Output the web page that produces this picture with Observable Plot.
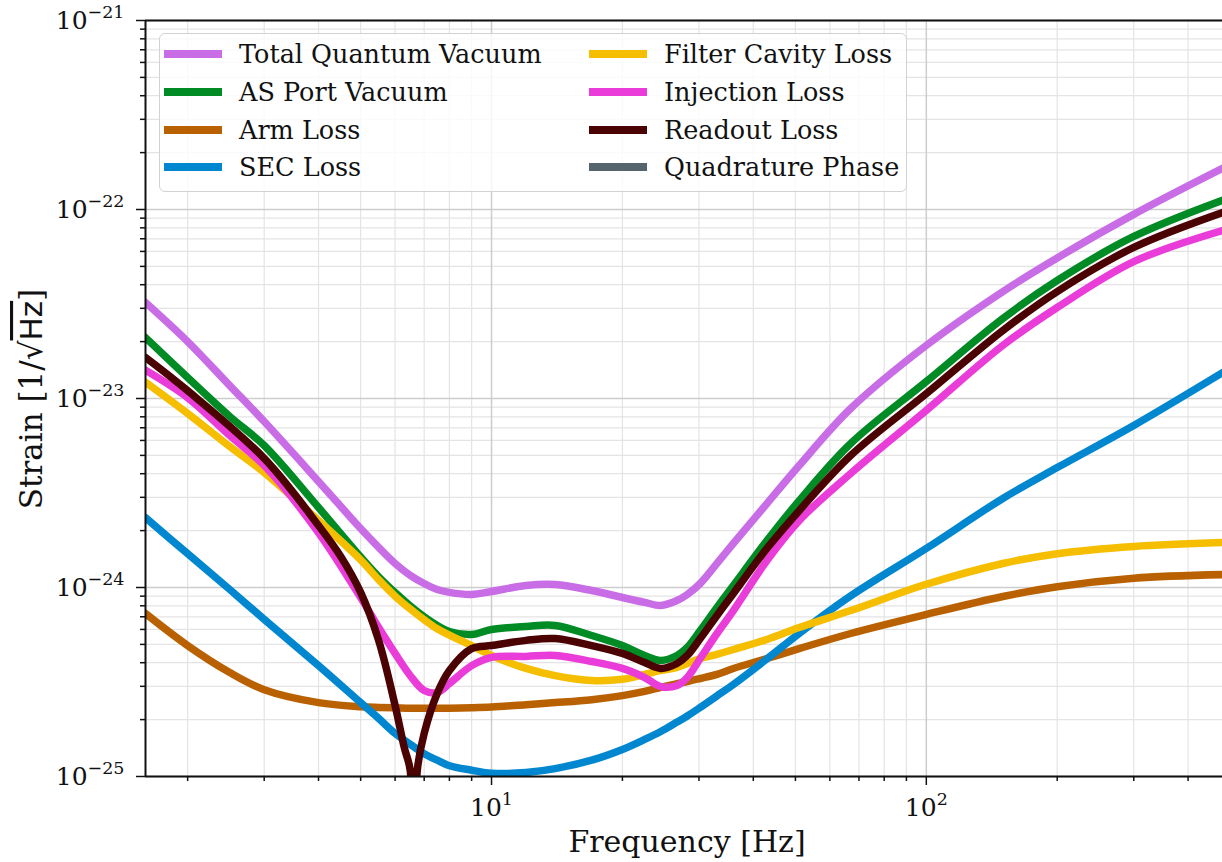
<!DOCTYPE html>
<html>
<head>
<meta charset="utf-8">
<script src="https://cdn.jsdelivr.net/npm/d3@7"></script>
<script src="https://cdn.jsdelivr.net/npm/@observablehq/plot@0.6"></script>
<style>
  html, body { margin: 0; padding: 0; background: #fff; }
  #wrap { position: relative; width: 1222px; height: 862px; overflow: hidden; font-family: "DejaVu Serif", serif; background: #fff; }
  #legend { position: absolute; left: 159px; top: 33px; width: 748px; height: 159px; box-sizing: border-box;
            border: 1.5px solid #d2d2d2; border-radius: 6px; background: rgba(255,255,255,0.8); }
  .item { position: absolute; height: 30px; display: flex; align-items: center; white-space: nowrap;
          font-size: 25.5px; color: #111; font-family: "DejaVu Serif", serif; }
  .sw { width: 58px; height: 8px; margin-right: 17px; flex: none; }
</style>
</head>
<body>
<div id="wrap"></div>
<script>
// ---------------- data ----------------
const freq = [1.6, 2, 2.5, 3, 4, 5, 5.5, 6, 6.5, 7, 7.5, 8, 9, 10, 12, 14, 17, 20, 22.5, 24.5, 26.7, 28.2, 30.2, 33, 36, 43, 51, 67, 100, 150, 200, 300, 480];

const totalQuantumVacuum = [3.22e-23, 2.0e-23, 1.17e-23, 7.55e-24, 3.64e-24, 2.05e-24, 1.63e-24, 1.34e-24, 1.16e-24, 1.05e-24, 9.75e-25, 9.42e-25, 9.19e-25, 9.53e-25, 1.025e-24, 1.037e-24, 9.64e-25, 8.85e-25, 8.34e-25, 8.03e-25, 8.53e-25, 9.19e-25, 1.05e-24, 1.34e-24, 1.71e-24, 2.78e-24, 4.42e-24, 8.85e-24, 1.91e-23, 3.68e-23, 5.54e-23, 9.42e-23, 1.65e-22];

const asPortVacuum = [2.10e-23, 1.29e-23, 8.03e-24, 5.64e-24, 2.65e-24, 1.45e-24, 1.14e-24, 9.4e-25, 8.0e-25, 7.0e-25, 6.3e-25, 5.85e-25, 5.64e-25, 6.0e-25, 6.22e-25, 6.3e-25, 5.57e-25, 4.93e-25, 4.37e-25, 4.11e-25, 4.37e-25, 4.82e-25, 5.92e-25, 7.84e-25, 1.025e-24, 1.77e-24, 2.88e-24, 5.78e-24, 1.23e-23, 2.65e-23, 4.21e-23, 7.2e-23, 1.12e-22];

const armLoss = [7.28e-25, 4.93e-25, 3.55e-25, 2.88e-25, 2.46e-25, 2.34e-25, 2.32e-25, 2.31e-25, 2.30e-25, 2.30e-25, 2.30e-25, 2.30e-25, 2.31e-25, 2.33e-25, 2.40e-25, 2.46e-25, 2.55e-25, 2.68e-25, 2.82e-25, 2.96e-25, 3.10e-25, 3.18e-25, 3.30e-25, 3.47e-25, 3.73e-25, 4.21e-25, 4.75e-25, 5.71e-25, 7.2e-25, 8.96e-25, 1.01e-24, 1.12e-24, 1.17e-24];

const secLoss = [2.34e-24, 1.51e-24, 9.76e-25, 6.78e-25, 3.86e-25, 2.46e-25, 2.03e-25, 1.69e-25, 1.48e-25, 1.32e-25, 1.22e-25, 1.14e-25, 1.08e-25, 1.04e-25, 1.05e-25, 1.10e-25, 1.22e-25, 1.39e-25, 1.57e-25, 1.73e-25, 1.94e-25, 2.09e-25, 2.32e-25, 2.67e-25, 3.07e-25, 4.19e-25, 5.71e-25, 9.02e-25, 1.61e-24, 2.96e-24, 4.31e-24, 7.2e-24, 1.37e-23];

const filterCavityLoss = [1.22e-23, 8.34e-24, 5.57e-24, 4.06e-24, 2.26e-24, 1.40e-24, 1.10e-24, 9.0e-25, 7.7e-25, 6.75e-25, 6.05e-25, 5.6e-25, 4.93e-25, 4.37e-25, 3.73e-25, 3.42e-25, 3.22e-25, 3.27e-25, 3.47e-25, 3.64e-25, 3.78e-25, 3.96e-25, 4.21e-25, 4.43e-25, 4.70e-25, 5.31e-25, 6.14e-25, 7.55e-25, 1.04e-24, 1.34e-24, 1.51e-24, 1.65e-24, 1.73e-24];

const injectionLoss = [1.41e-23, 1.01e-23, 6.37e-24, 4.42e-24, 1.95e-24, 8.85e-25, 6.14e-25, 4.48e-25, 3.42e-25, 2.85e-25, 2.78e-25, 3.10e-25, 3.86e-25, 4.27e-25, 4.32e-25, 4.37e-25, 4.06e-25, 3.73e-25, 3.34e-25, 2.99e-25, 3.03e-25, 3.34e-25, 4.21e-25, 5.71e-25, 7.55e-25, 1.39e-24, 2.26e-24, 4.01e-24, 8.65e-24, 1.91e-23, 3.03e-23, 5.3e-23, 7.74e-23];

const readoutFreq = [1.6, 2, 3, 4, 4.5, 5, 5.5, 6, 6.3, 6.5, 6.62, 6.75, 7, 7.5, 8, 9, 10, 12, 14, 17, 20, 22.5, 24.5, 26.7, 28.2, 30.2, 33, 36, 43, 51, 67, 100, 150, 200, 300, 480];
const readoutLoss = [1.65e-23, 1.10e-23, 4.82e-24, 2.13e-24, 1.46e-24, 9.42e-25, 5.25e-25, 2.38e-25, 1.42e-25, 1.08e-25, 2e-26, 1.08e-25, 1.69e-25, 2.75e-25, 3.64e-25, 4.75e-25, 4.93e-25, 5.25e-25, 5.37e-25, 4.93e-25, 4.48e-25, 4.01e-25, 3.73e-25, 3.96e-25, 4.37e-25, 5.37e-25, 7.11e-25, 9.30e-25, 1.61e-24, 2.55e-24, 4.99e-24, 1.06e-23, 2.29e-23, 3.68e-23, 6.30e-23, 9.64e-23];

// Quadrature Phase: listed in the legend, no visible curve inside the plotted range
const seriesNames = ["Total Quantum Vacuum", "AS Port Vacuum", "Arm Loss", "SEC Loss",
                     "Filter Cavity Loss", "Injection Loss", "Readout Loss", "Quadrature Phase"];
const seriesColors = ["#c86de6", "#008b24", "#b96100", "#0087d0", "#f5be00", "#ea3cd9", "#4a0202", "#56646e"];

const xMajorTicks = [10, 100];
const xMajorLabels = ["10^1", "10^2"];
const yMajorTicks = [1e-25, 1e-24, 1e-23, 1e-22, 1e-21];
const yMajorLabels = ["10^\u221225", "10^\u221224", "10^\u221223", "10^\u221222", "10^\u221221"];
const minorSteps = [2, 3, 4, 5, 6, 7, 8, 9];

const xLabel = "Frequency [Hz]";
const xDomain = [1.6, 480];
const yDomain = [1e-25, 1e-21];

// ---------------- build ----------------
const seriesData = [
  [freq, totalQuantumVacuum], [freq, asPortVacuum], [freq, armLoss], [freq, secLoss],
  [freq, filterCavityLoss], [freq, injectionLoss], [readoutFreq, readoutLoss]
];
const xMinor = [];
[1, 10, 100].forEach(d => minorSteps.forEach(k => { const v = k * d; if (v > xDomain[0] && v < xDomain[1]) xMinor.push(v); }));
const yMinor = [];
[1e-25, 1e-24, 1e-23, 1e-22].forEach(d => minorSteps.forEach(k => yMinor.push(k * d)));

const fmtFrom = (ticks, labels) => d => labels[ticks.findIndex(t => Math.abs(t / d - 1) < 1e-6)];

const lineMarks = seriesData.map(([xs, ys], i) =>
  Plot.line(xs.map((f, j) => ({f, v: ys[j]})), {
    x: "f", y: "v", stroke: seriesColors[i], strokeWidth: 7.5,
    curve: "catmull-rom", clip: true, strokeLinejoin: "round"
  })
);

const chart = Plot.plot({
  width: 1222, height: 862,
  marginLeft: 145, marginRight: 0, marginTop: 20, marginBottom: 86,
  style: {fontFamily: "DejaVu Serif", fontSize: "25px", color: "#111", background: "transparent"},
  x: {type: "log", domain: xDomain, label: null},
  y: {type: "log", domain: yDomain, label: null},
  marks: [
    Plot.ruleX(xMinor, {stroke: "#e4e4e4", strokeWidth: 1.2}),
    Plot.ruleY(yMinor, {stroke: "#e4e4e4", strokeWidth: 1.2}),
    Plot.ruleX(xMajorTicks, {stroke: "#cdcdcd", strokeWidth: 1.5}),
    Plot.ruleY(yMajorTicks, {stroke: "#cdcdcd", strokeWidth: 1.5}),
    ...lineMarks,
    Plot.ruleX([xDomain[0]], {stroke: "#111", strokeWidth: 2}),
    Plot.ruleY([yDomain[0], yDomain[1]], {stroke: "#111", strokeWidth: 2}),
    Plot.axisX(xMinor, {tickSize: 5, tickFormat: () => "", strokeWidth: 1.5, label: null}),
    Plot.axisX(xMajorTicks, {tickSize: 9, tickPadding: 13, tickFormat: fmtFrom(xMajorTicks, xMajorLabels), strokeWidth: 1.5, label: null}),
    Plot.axisY(yMinor, {tickSize: 5, tickFormat: () => "", strokeWidth: 1.5, label: null}),
    Plot.axisY(yMajorTicks, {tickSize: 9, tickPadding: 12, tickFormat: fmtFrom(yMajorTicks, yMajorLabels), strokeWidth: 1.5, label: null})
  ]
});

const wrap = document.getElementById("wrap");
wrap.appendChild(chart);
const svg = d3.select(chart);

// superscript exponents on tick labels
svg.selectAll("text").each(function () {
  const t = this.textContent;
  if (t && t.includes("^")) {
    const [base, exp] = t.split("^");
    const sel = d3.select(this);
    sel.text(null);
    sel.append("tspan").text(base);
    sel.append("tspan").attr("dy", "-11px").attr("font-size", "17.5px").text(exp);
  }
});

// axis titles
svg.append("text")
  .attr("x", 687).attr("y", 852)
  .attr("text-anchor", "middle")
  .attr("font-family", "DejaVu Serif").attr("font-size", 30).attr("fill", "#111")
  .text(xLabel);

const yl = svg.append("text")
  .attr("transform", "translate(42,399) rotate(-90)")
  .attr("text-anchor", "middle")
  .attr("font-family", "DejaVu Serif").attr("font-size", 31).attr("fill", "#111");
yl.append("tspan").text("Strain [1/");
yl.append("tspan").attr("font-family", "DejaVu Sans").text("\u221A");
yl.append("tspan").attr("font-family", "DejaVu Sans").style("text-decoration", "overline").text("Hz");
yl.append("tspan").text("]");

// legend
const legend = document.createElement("div");
legend.id = "legend";
wrap.appendChild(legend);
const colLeft = [4, 429];
const rowTop = [4.5, 42.5, 80.5, 117.5];
seriesNames.forEach((name, i) => {
  const col = Math.floor(i / 4), row = i % 4;
  const item = document.createElement("div");
  item.className = "item";
  item.style.left = colLeft[col] + "px";
  item.style.top = rowTop[row] + "px";
  const sw = document.createElement("span");
  sw.className = "sw";
  sw.style.background = seriesColors[i];
  const tx = document.createElement("span");
  tx.textContent = name;
  item.appendChild(sw);
  item.appendChild(tx);
  legend.appendChild(item);
});
</script>
</body>
</html>
